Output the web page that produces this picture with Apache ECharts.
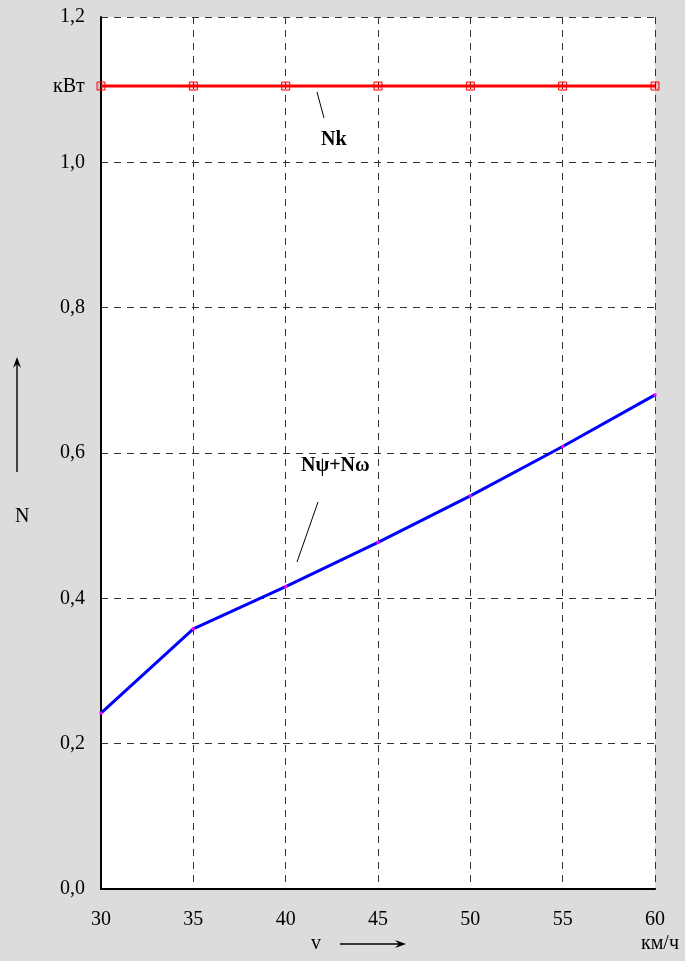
<!DOCTYPE html>
<html><head><meta charset="utf-8">
<script src="https://cdn.jsdelivr.net/npm/echarts@6/dist/echarts.min.js"></script>
<style>html,body{margin:0;padding:0;background:#dcdcdc;}#c{width:685px;height:961px;}</style>
</head><body><div id="c"></div>
<script>
var speeds = [30, 35, 40, 45, 50, 55, 60];
var nk = [1.105, 1.105, 1.105, 1.105, 1.105, 1.105, 1.105];
var npsiOmega = [0.242, 0.358, 0.416, 0.477, 0.541, 0.609, 0.680];

var chart = echarts.init(document.getElementById('c'));
var font = 'Liberation Serif';
var fmt = function (v) { return v.toFixed(1).replace('.', ','); };

function arrow(x1, y1, x2, y2) {
  var dx = x2 - x1, dy = y2 - y1, L = Math.sqrt(dx*dx+dy*dy);
  var ux = dx / L, uy = dy / L, hl = 11, hw = 4;
  var bx = x2 - ux*hl, by = y2 - uy*hl;
  return [
    {type:'line', shape:{x1:x1,y1:y1,x2:bx+ux*4,y2:by+uy*4}, style:{stroke:'#000', lineWidth:1.4}},
    {type:'polygon', shape:{points:[[x2,y2],[bx - uy*hw, by + ux*hw],[bx+ux*4, by+uy*4],[bx + uy*hw, by - ux*hw]]}, style:{fill:'#000'}}
  ];
}

var graphics = [
  {type:'text', left:53, top:77, style:{text:'кВт', font:'20px "Liberation Serif"', fill:'#000'}},
  {type:'text', left:15, top:507, style:{text:'N', font:'20px "Liberation Serif"', fill:'#000'}},
  {type:'text', left:311, top:934, style:{text:'v', font:'20px "Liberation Serif"', fill:'#000'}},
  {type:'text', left:641, top:934, style:{text:'км/ч', font:'20px "Liberation Serif"', fill:'#000'}},
  {type:'text', left:321, top:130, style:{text:'Nk', font:'bold 20px "Liberation Serif"', fill:'#000'}},
  {type:'text', left:301, top:456, style:{text:'Nψ+Nω', font:'bold 20px "Liberation Serif"', fill:'#000'}},
  {type:'line', shape:{x1:317,y1:92,x2:324,y2:118}, style:{stroke:'#000', lineWidth:1}},
  {type:'line', shape:{x1:318,y1:502,x2:297,y2:562}, style:{stroke:'#000', lineWidth:1}}
].concat(arrow(340, 944, 406, 944)).concat(arrow(17, 472, 17, 357));

chart.setOption({
  backgroundColor: '#dcdcdc',
  animation: false,
  grid: {left: 101, right: 30, top: 17, bottom: 72, show: true, backgroundColor: '#fff', borderWidth: 0},
  xAxis: {
    type: 'value', min: 30, max: 60, interval: 5,
    axisLine: {show: true, onZero: false, lineStyle: {color: '#000', width: 2}},
    axisTick: {show: false},
    axisLabel: {color: '#000', fontFamily: font, fontSize: 20, margin: 21},
    splitLine: {show: true, lineStyle: {color: '#333', type: [7, 6], width: 1}}
  },
  yAxis: {
    type: 'value', min: 0, max: 1.2, interval: 0.2,
    axisLine: {show: true, lineStyle: {color: '#000', width: 2}},
    axisTick: {show: false},
    axisLabel: {color: '#000', fontFamily: font, fontSize: 20, margin: 16, formatter: fmt},
    splitLine: {show: true, lineStyle: {color: '#333', type: [7, 6], width: 1}}
  },
  series: [
    {
      type: 'line', name: 'Nk',
      data: speeds.map(function (s, i) { return [s, nk[i]]; }),
      lineStyle: {color: '#ff0000', width: 3},
      itemStyle: {color: 'rgba(255,0,0,0.12)', borderColor: '#ff0000', borderWidth: 1},
      symbol: 'rect', symbolSize: 8, showSymbol: true, z: 3
    },
    {
      type: 'line', name: 'Nψ+Nω',
      data: speeds.map(function (s, i) { return [s, npsiOmega[i]]; }),
      lineStyle: {color: '#0000ff', width: 3},
      itemStyle: {color: '#ff00ff', borderWidth: 0},
      symbol: 'rect', symbolSize: 3, showSymbol: true, z: 3
    }
  ],
  graphic: graphics
});
</script>
</body></html>
